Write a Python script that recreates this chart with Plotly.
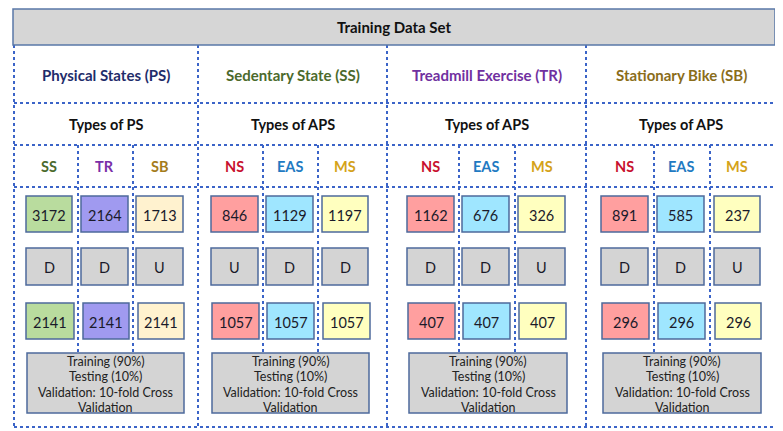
import plotly.graph_objects as go

# ---- data ----
title = "Training Data Set"
panel_titles = ["Physical States (PS)", "Sedentary State (SS)", "Treadmill Exercise (TR)", "Stationary Bike (SB)"]
type_titles = ["Types of PS", "Types of APS", "Types of APS", "Types of APS"]
sub_labels = [["SS", "TR", "SB"], ["NS", "EAS", "MS"], ["NS", "EAS", "MS"], ["NS", "EAS", "MS"]]
original_counts = [[3172, 2164, 1713], [846, 1129, 1197], [1162, 676, 326], [891, 585, 237]]
sampling = [["D", "D", "U"], ["U", "D", "D"], ["D", "D", "U"], ["D", "D", "U"]]
balanced_counts = [[2141, 2141, 2141], [1057, 1057, 1057], [407, 407, 407], [296, 296, 296]]
split_lines = ["Training (90%)", "Testing (10%)", "Validation: 10-fold Cross", "Validation"]

# ---- styles ----
title_colors = ["#1f2d6b", "#4b6a2c", "#7030a0", "#8a6d1a"]
label_colors = {"SS": "#4b6a2c", "TR": "#7a2fa8", "SB": "#a47c1c",
                "NS": "#c8102e", "EAS": "#1f7ac2", "MS": "#d4a21a"}
fill_colors = {"SS": "#b9dc9e", "TR": "#a09af0", "SB": "#fff2cf",
               "NS": "#ff9f9f", "EAS": "#9fe6ff", "MS": "#ffffbf"}
dot_color = "#3b64c8"
box_line = "#4d6a9c"
gray = "#d4d4d4"
FONT = "Lato"

panel_x = [14, 198, 387, 586, 776]
sub_div = [[78, 133], [263, 318], [459, 515], [654, 710]]
box_x1 = [[(26, 72), (81, 128), (136, 183)], [(211, 258), (266, 313), (322, 368)],
          [(407, 454), (462, 509), (518, 565)], [(601, 648), (657, 704), (714, 760)]]
box_x3 = [[(26, 74), (83, 129), (138, 184)], [(212, 259), (267, 314), (323, 370)],
          [(408, 455), (463, 510), (519, 566)], [(602, 649), (658, 705), (715, 761)]]
bottom_x = [(27, 184), (212, 369), (409, 567), (603, 761)]
row_y = [(196, 232), (248, 285), (303, 339)]
bottom_y = (353, 413)
line_y = [361, 376.5, 392, 407.5]

fig = go.Figure()
shapes = []
ann = []

def dotline(x0, y0, x1, y1):
    shapes.append(dict(type="line", x0=x0, y0=y0, x1=x1, y1=y1,
                       line=dict(color=dot_color, width=2, dash="dot"), layer="below"))

# header
shapes.append(dict(type="rect", x0=13, y0=9, x1=775, y1=45, fillcolor="#d6d6d6",
                   line=dict(color="#5a78a8", width=1.5)))
ann.append(dict(x=394, y=27, text="<b>%s</b>" % title, font=dict(size=15, color="#111", family=FONT)))

# grid lines
for x in panel_x:
    dotline(x, 45, x, 427)
for y in [103, 145, 187, 427]:
    dotline(14, y, 776, y)
for p in range(4):
    for x in sub_div[p]:
        dotline(x, 145, x, 352)

for p in range(4):
    cx = (panel_x[p] + panel_x[p + 1]) / 2
    ann.append(dict(x=cx, y=75, text="<b>%s</b>" % panel_titles[p],
                    font=dict(size=15, color=title_colors[p], family=FONT)))
    ann.append(dict(x=cx, y=124, text="<b>%s</b>" % type_titles[p],
                    font=dict(size=14.5, color="#111", family=FONT)))
    for k in range(3):
        lab = sub_labels[p][k]
        bx = box_x1[p][k]
        ann.append(dict(x=(bx[0] + bx[1]) / 2, y=166, text="<b>%s</b>" % lab,
                        font=dict(size=14.5, color=label_colors[lab], family=FONT)))
        rows = [(box_x1[p][k], row_y[0], fill_colors[lab], str(original_counts[p][k])),
                (box_x1[p][k], row_y[1], gray, sampling[p][k]),
                (box_x3[p][k], row_y[2], fill_colors[lab], str(balanced_counts[p][k]))]
        for (xx, yy, fc, txt) in rows:
            shapes.append(dict(type="rect", x0=xx[0], x1=xx[1], y0=yy[0], y1=yy[1],
                               fillcolor=fc, line=dict(color=box_line, width=1.5)))
            ann.append(dict(x=(xx[0] + xx[1]) / 2, y=(yy[0] + yy[1]) / 2 + 1, text=txt,
                            font=dict(size=14.5, color="#1a1a2a", family=FONT)))
    bx = bottom_x[p]
    shapes.append(dict(type="rect", x0=bx[0], x1=bx[1], y0=bottom_y[0], y1=bottom_y[1],
                       fillcolor=gray, line=dict(color=box_line, width=1.5)))
    for ly, t in zip(line_y, split_lines):
        ann.append(dict(x=(bx[0] + bx[1]) / 2, y=ly, text=t,
                        font=dict(size=12.5, color="#222", family=FONT)))

for a in ann:
    a.update(xref="x", yref="y", showarrow=False, xanchor="center", yanchor="middle")

# page body has an 8px margin: size the figure to fit and map data units to page pixels
fig.update_layout(
    width=775, height=423, margin=dict(l=0, r=0, t=0, b=0),
    paper_bgcolor="white", plot_bgcolor="white",
    xaxis=dict(range=[8, 783], visible=False, fixedrange=True),
    yaxis=dict(range=[431, 8], visible=False, fixedrange=True),
    shapes=shapes, annotations=ann, showlegend=False,
)
fig.write_html("out.html")
